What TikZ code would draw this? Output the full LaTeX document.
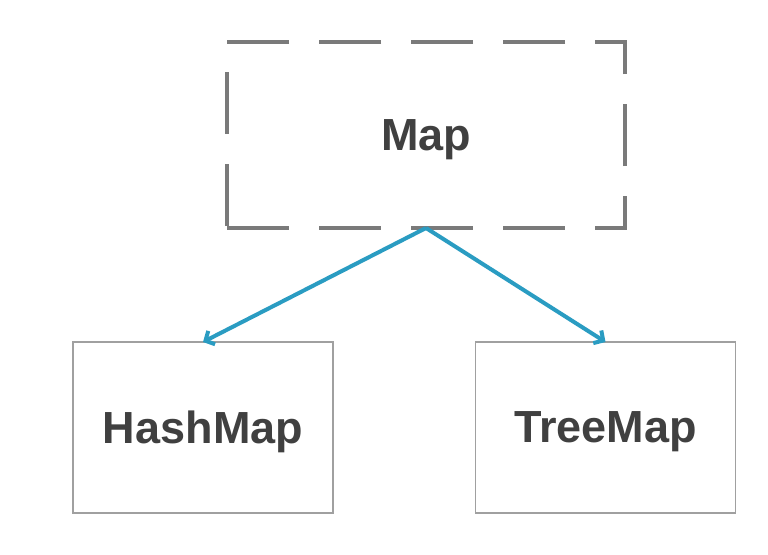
\documentclass[tikz,border=0pt]{standalone}
\usepackage{fontspec}
\setmainfont{Liberation Sans}
\usetikzlibrary{arrows.meta}
\definecolor{dashgray}{HTML}{7A7A7A}
\definecolor{boxgray}{HTML}{A0A0A0}
\definecolor{txtgray}{HTML}{404040}
\definecolor{arrowblue}{HTML}{2A9CC2}
\begin{document}
\begin{tikzpicture}[x=1pt,y=-1pt,
  lbl/.style={font=\fontsize{45}{50}\selectfont\bfseries, text=txtgray, inner sep=0pt, outer sep=0pt, text depth=0pt},
  abstractbox/.style={lbl, draw=dashgray, line width=4pt, dash pattern=on 62pt off 30pt, minimum width=398pt, minimum height=186pt},
  concretebox/.style={lbl, draw=boxgray, line width=1.5pt, minimum width=260pt, minimum height=171pt},
  inherit/.style={draw=arrowblue, line width=4pt, -{Straight Barb[length=7pt,width=15pt,line width=4pt]}}
]
\useasboundingbox[fill=white] (0,0) rectangle (768,554);
\node[abstractbox] (map) at (426,135) {Map};
\node[concretebox] (hash) at (203,427.5) {HashMap};
\node[concretebox] (tree) at (605.5,427.5) {TreeMap};
\draw[inherit] (map.south) -- (hash.north);
\draw[inherit] (map.south) -- (tree.north);
\end{tikzpicture}
\end{document}
